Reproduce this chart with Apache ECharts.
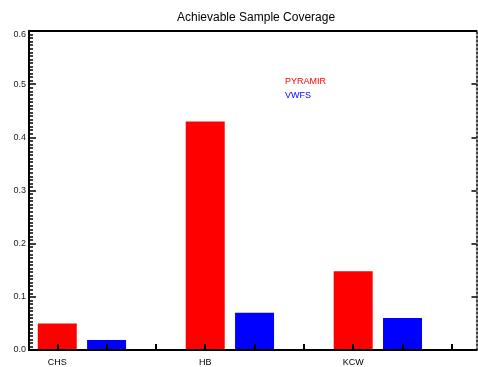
<!DOCTYPE html>
<html><head><meta charset="utf-8">
<script src="https://cdn.jsdelivr.net/npm/echarts@6/dist/echarts.min.js"></script>
<style>html,body{margin:0;padding:0;background:#fff}#c{width:478px;height:367px}</style>
</head><body><div id="c"></div>
<script>
const titleText = 'Achievable Sample Coverage';
const categories = ['CHS', 'HB', 'KCW'];
const seriesNames = ['PYRAMIR', 'VWFS'];
const seriesColors = ['#ff0000', '#0000ff'];
const pyramirValues = [0.05, 0.43, 0.148];
const vwfsValues = [0.019, 0.07, 0.06];
const yTickValues = [0, 0.1, 0.2, 0.3, 0.4, 0.5, 0.6];
const xTickSlots = [0, 1, 2, 3, 4, 5, 6, 7, 8];
const groupSize = 3;

const font = 'Liberation Sans, Arial, Helvetica, sans-serif';
const chart = echarts.init(document.getElementById('c'), null, {renderer: 'canvas'});
const allValues = [pyramirValues, vwfsValues];
const series = seriesNames.map((name, s) => ({
  name,
  type: 'bar',
  barWidth: 39,
  barGap: '-100%',
  z: 2,
  itemStyle: {color: seriesColors[s]},
  data: allValues[s].map((v, i) => [i * groupSize + s, v])
}));

chart.setOption({
  animation: false,
  title: {
    text: titleText, left: 177, top: 12, padding: 0,
    textStyle: {fontFamily: font, fontSize: 12, fontWeight: 'normal', color: '#000'}
  },
  legend: {
    orient: 'vertical', left: 280, top: 77, itemGap: 5, itemWidth: 0, itemHeight: 0,
    padding: 0, selectedMode: false,
    data: seriesNames.map((n, s) => ({name: n, icon: 'none', textStyle: {color: seriesColors[s]}})),
    textStyle: {fontFamily: font, fontSize: 9}
  },
  grid: {left: 29, right: 1.5, top: 31, bottom: 16.5, containLabel: false},
  xAxis: [{
    type: 'value', min: -0.573, max: 8.5, position: 'bottom', z: 10,
    axisLine: {show: true, onZero: false, lineStyle: {color: '#000', width: 2}},
    axisTick: {show: true, inside: true, length: 6, customValues: xTickSlots, lineStyle: {color: '#000', width: 2}},
    axisLabel: {
      customValues: categories.map((c, i) => i * groupSize),
      formatter: v => categories[Math.round(v / groupSize)],
      fontFamily: font, fontSize: 9, color: '#000', margin: 8
    },
    splitLine: {show: false}
  }, {
    type: 'value', min: -0.573, max: 8.5, position: 'top', z: 10,
    axisLine: {show: true, onZero: false, lineStyle: {color: '#000', width: 2}},
    axisTick: {show: false}, axisLabel: {show: false}, splitLine: {show: false}
  }],
  yAxis: [{
    type: 'value', min: 0, max: 0.6, interval: 0.1, position: 'left', z: 10,
    axisLine: {show: true, onZero: false, lineStyle: {color: '#000', width: 2}},
    axisTick: {show: true, inside: true, length: 7, lineStyle: {color: '#000', width: 1.5}},
    minorTick: {show: true, splitNumber: 15, length: 4, lineStyle: {color: '#000', width: 1.5}},
    axisLabel: {
      customValues: yTickValues,
      formatter: v => v >= 0.6 ? '{top|' + v.toFixed(1) + '}' : v.toFixed(1),
      rich: {top: {padding: [8, 0, 0, 0], fontFamily: font, fontSize: 9, color: '#222'}},
      fontFamily: font, fontSize: 9, color: '#222', margin: 3
    },
    splitLine: {show: false}
  }, {
    type: 'value', min: 0, max: 0.6, interval: 0.1, position: 'right', z: 10,
    axisLine: {show: true, onZero: false, lineStyle: {color: '#000', width: 1.5, type: [2, 2]}},
    axisTick: {show: true, inside: true, length: 5, lineStyle: {color: '#000', width: 1.5}},
    axisLabel: {show: false}, splitLine: {show: false}
  }],
  series
});
</script></body></html>
